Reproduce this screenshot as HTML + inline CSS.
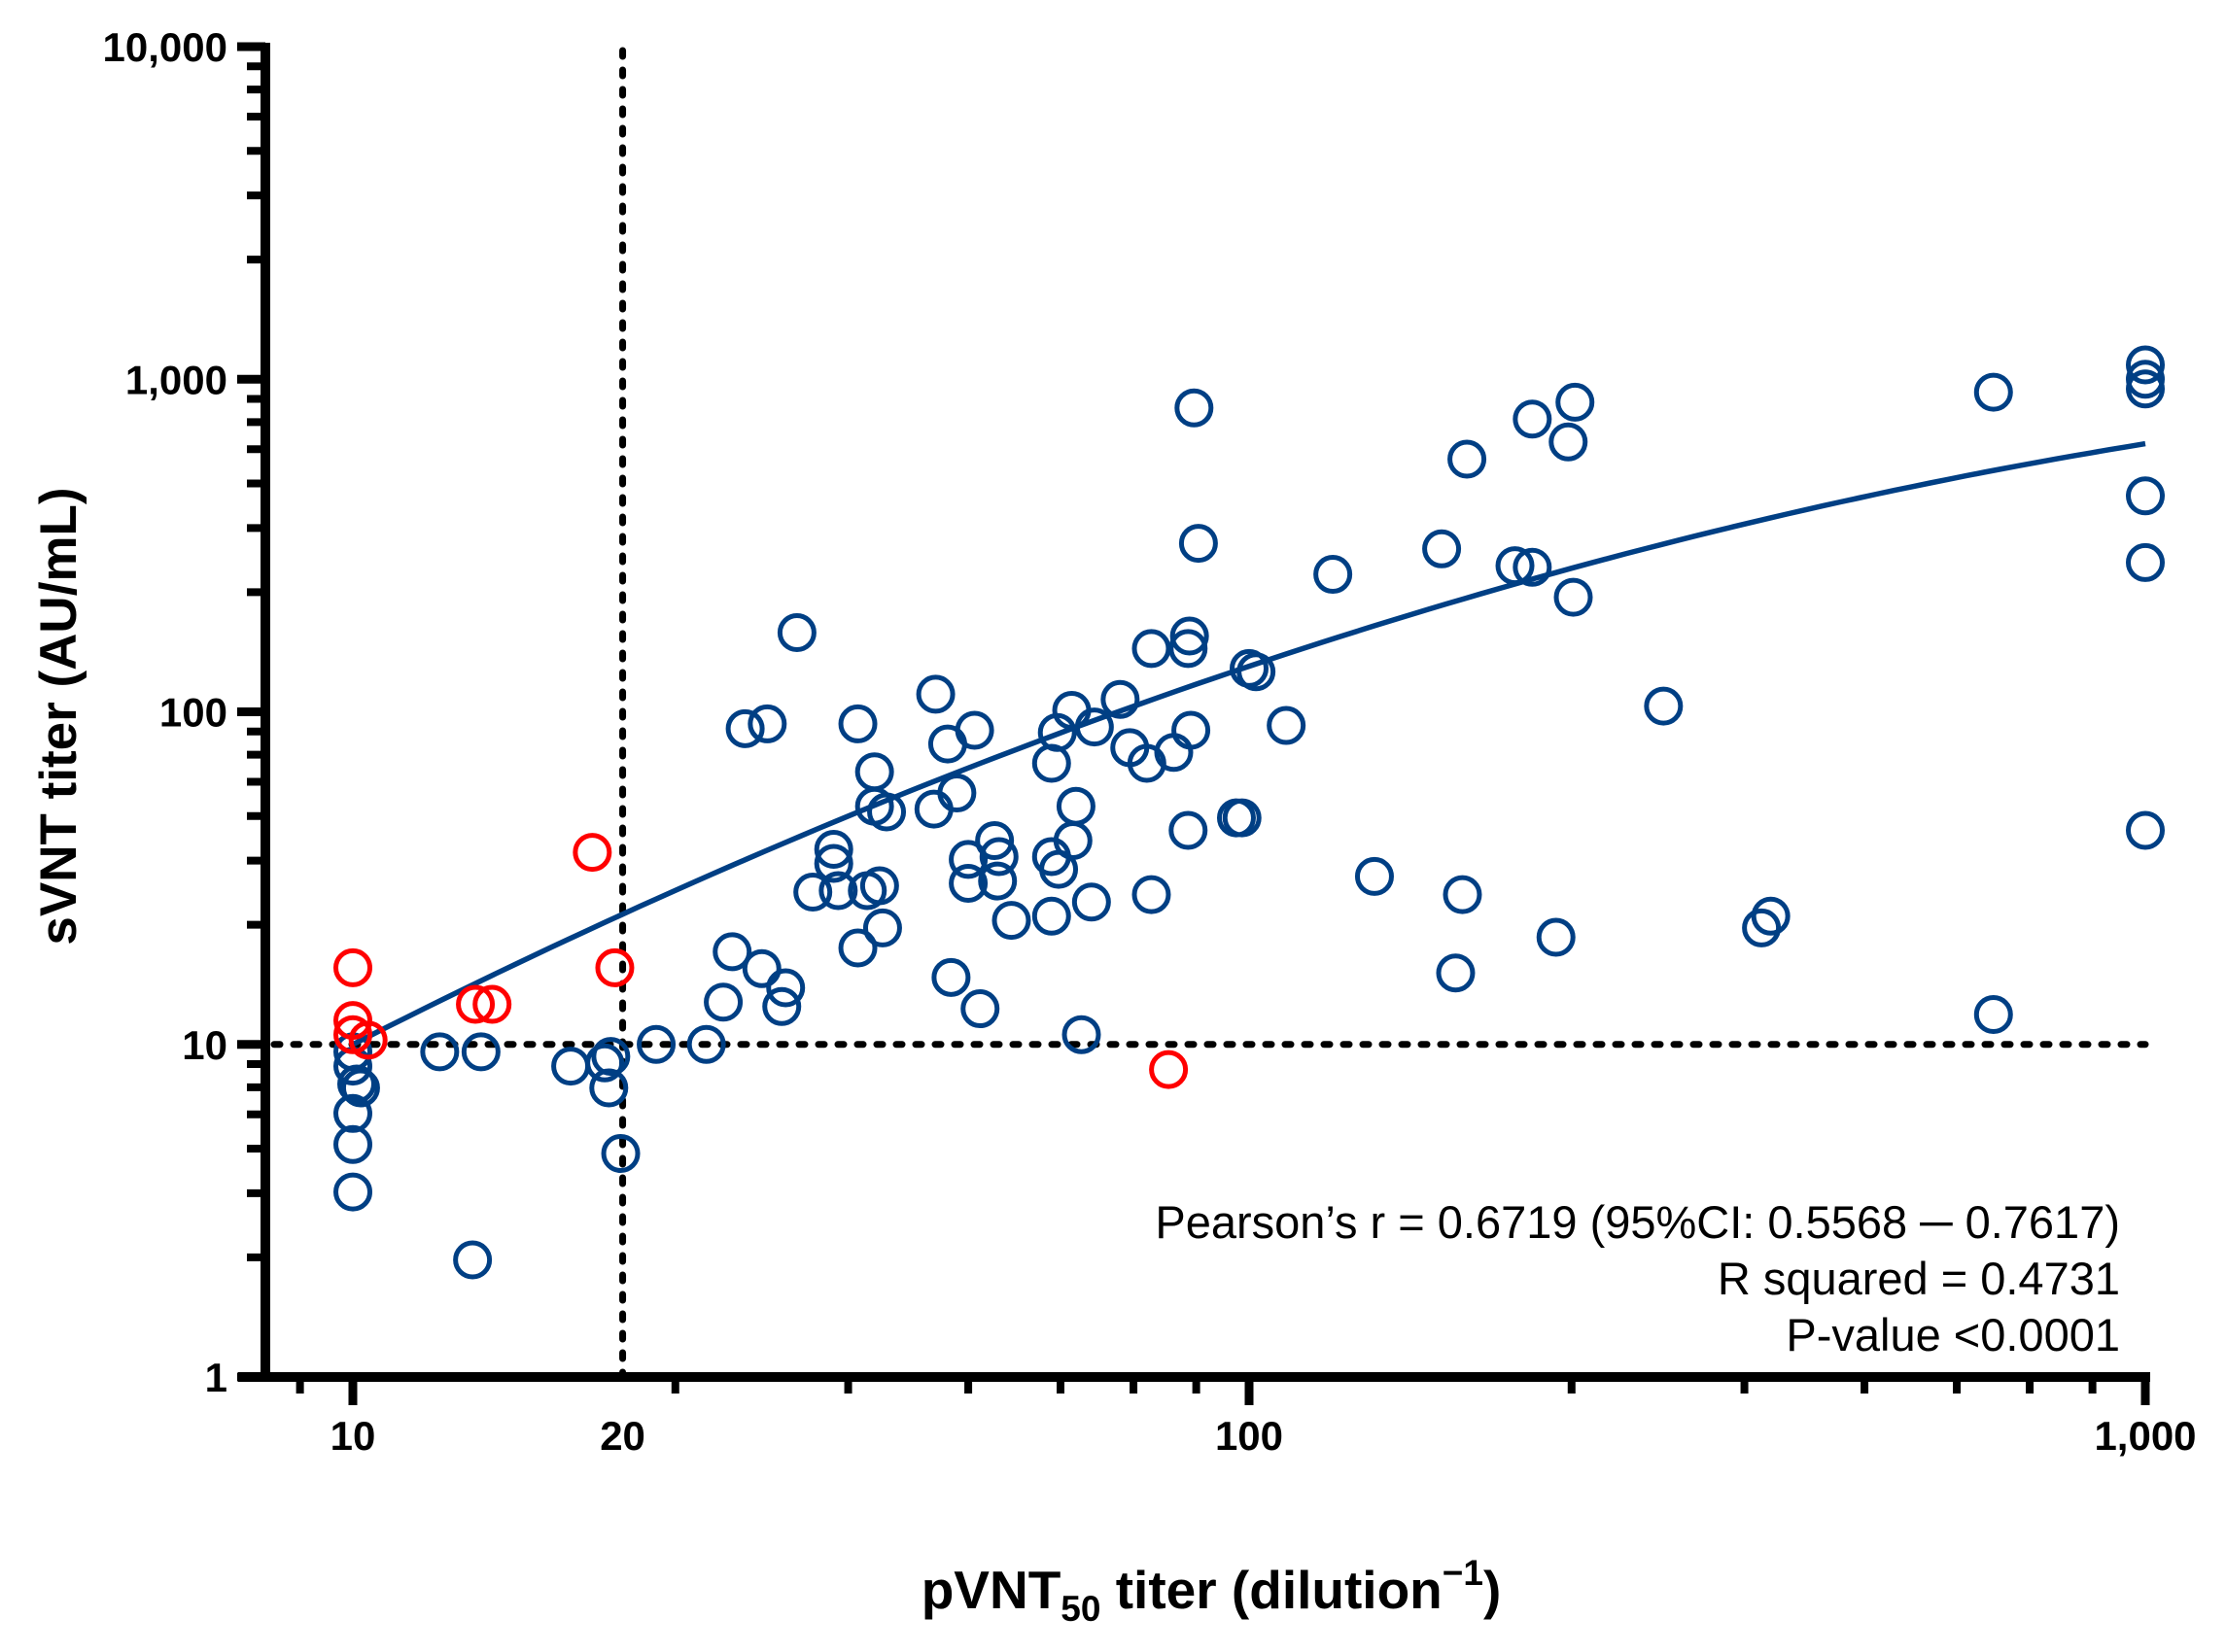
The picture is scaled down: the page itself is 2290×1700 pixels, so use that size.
<!DOCTYPE html>
<html><head><meta charset="utf-8"><style>
html,body{margin:0;padding:0;background:#fff;}
svg{display:block;font-family:"Liberation Sans",Arial,sans-serif;}
</style></head><body>
<svg id="chart" width="2290" height="1700" viewBox="0 0 2290 1700" xmlns="http://www.w3.org/2000/svg">
<g id="axes"></g>
<g id="refs"></g>
<g id="fit"></g>
<g id="pts"></g>
<text transform="translate(78,737) rotate(-90)" text-anchor="middle" font-weight="bold" font-size="53">sVNT titer (AU/mL)</text>
<text x="1246" y="1655" text-anchor="middle" font-weight="bold" font-size="55">pVNT<tspan font-size="37" dy="13">50</tspan><tspan dy="-13"> titer (dilution</tspan><tspan font-size="37" dy="-24">−1</tspan><tspan dy="24">)</tspan></text>
<g font-size="47" text-anchor="end">
<text x="2181" y="1274">Pearson’s r = 0.6719 (95%CI: 0.5568 ─ 0.7617)</text>
<text x="2181" y="1332">R squared = 0.4731</text>
<text x="2181" y="1390">P-value &lt;0.0001</text>
</g>
</svg>
<script>
const xTickVals=[10,20,100,1000];
const xTickLabels=["10","20","100","1,000"];
const yTickVals=[1,10,100,1000,10000];
const yTickLabels=["1","10","100","1,000","10,000"];
const minorMult=[2.29,3.57,4.86,6.16,7.43,8.73];
const blueX=[10,10,10.1,10,10,10,10.2,12.5,13.9,13.6,17.5,19.1,19.4,19.3,19.9,21.8,24.8,25.9,26.5,27.4,29.0,28.6,30.1,30.4,31.3,32.6,34.4,34.4,34.8,36.6,36.6,37.5,38.2,38.2,38.7,39.0,39.4,44.7,44.5,46.1,47.2,46.5,49.4,48.6,48.6,50.1,52,52.6,52.4,54.3,60.2,60.2,61.3,61.1,63.4,63.6,64.1,60.2,65,66.7,67.2,71.8,73.6,76.9,77.8,77.8,82.4,85.8,85.5,86.1,85.5,86.8,87.8,96.8,98.2,100,101.8,110,124,138,164,170,173,175,198,207,207,220,227,231,230,290,373,382,677,677,1000,1000,1000,1000,1000,1000];
const blueY=[9.5,8.6,7.6,6.2,5.0,3.6,7.4,9.5,9.5,2.25,8.6,8.8,9.2,7.4,4.7,10,10,13.4,19,89,92,16.9,13,14.8,173,28.7,38.6,35,29,92,19.5,29,66,52,30,22.4,50,113,51,80,57,15.9,88,36,30.5,12.8,41,36.7,31,23.6,70,36.7,33.6,86.7,101,41,52,24.3,10.7,26.8,90,109,78,70,155,28.2,75.5,169,155,88,44,820,321,48,48,135,132,91,259,32,309,16.4,28.2,575,275,272,759,21,648,853,221,104,22.4,24.3,914,12.3,1104,1000,935,446,281,44];
const redX=[10,10,10,10.4,13.7,14.3,18.5,19.6,81.3];
const redY=[17,11.8,10.7,10.3,13.2,13.2,37.8,17,8.4];
const fitA=1.371, fitB=-0.234; // log-log quadratic fit
const NS="http://www.w3.org/2000/svg";
const X0=363, XD=922, Y0=1417, YD=342.25;
function sx(v){return X0+(Math.log10(v)-1)*XD;}
function sy(v){return Y0-Math.log10(v)*YD;}
function mk(tag,attrs,parent){const e=document.createElementNS(NS,tag);for(const k in attrs)e.setAttribute(k,attrs[k]);parent.appendChild(e);return e;}
const axes=document.getElementById('axes');
let e;
e=mk('line',{x1:273,y1:44,x2:273,y2:1422,stroke:'#000','stroke-width':10},axes);


e=mk('line',{x1:245,y1:1417,x2:2212,y2:1417,stroke:'#000','stroke-width':10},axes);


for(let d=0;d<4;d++){minorMult.forEach(m=>{const v=Math.pow(10,d)*m;
e=mk('line',{x1:254,y1:sy(v),x2:273,y2:sy(v),stroke:'#000','stroke-width':8},axes);

});}
yTickVals.forEach((v,i)=>{
e=mk('line',{x1:244,y1:sy(v),x2:273,y2:sy(v),stroke:'#000','stroke-width':9},axes);


const t=mk('text',{x:234,y:sy(v)+15,'text-anchor':'end','font-weight':'bold','font-size':42},axes);t.textContent=yTickLabels[i];

});
const xMinor=[minorMult[5]];
for(let d=1;d<3;d++)minorMult.forEach(m=>xMinor.push(Math.pow(10,d)*m));
xMinor.forEach(v=>{
e=mk('line',{x1:sx(v),y1:1417,x2:sx(v),y2:1434,stroke:'#000','stroke-width':8},axes);

});
xTickVals.forEach((v,i)=>{
if(v!==20){
e=mk('line',{x1:sx(v),y1:1417,x2:sx(v),y2:1446,stroke:'#000','stroke-width':9},axes);

}
const t=mk('text',{x:sx(v),y:1492,'text-anchor':'middle','font-weight':'bold','font-size':42},axes);t.textContent=xTickLabels[i];

});
const refs=document.getElementById('refs');
e=mk('line',{x1:282,y1:sy(10),x2:sx(1000),y2:sy(10),stroke:'#000','stroke-width':7,'stroke-dasharray':'6 14','stroke-linecap':'round'},refs);


e=mk('line',{x1:sx(20),y1:sy(10000)+4,x2:sx(20),y2:1418,stroke:'#000','stroke-width':7,'stroke-dasharray':'6 14','stroke-linecap':'round'},refs);


let d='';for(let i=0;i<=100;i++){const u=2*i/100;const v=fitA*u+fitB*u*u;const px=X0+u*XD, py=Y0-(v+1)*YD;d+=(i?'L':'M')+px.toFixed(1)+','+py.toFixed(1);}
e=mk('path',{d:d,fill:'none',stroke:'#003f84','stroke-width':5.5},document.getElementById('fit'));


const pts=document.getElementById('pts');
blueX.forEach((x,i)=>{e=mk('circle',{cx:sx(x),cy:sy(blueY[i]),r:17.5,fill:'none',stroke:'#003f84','stroke-width':5},pts);

});
redX.forEach((x,i)=>{e=mk('circle',{cx:sx(x),cy:sy(redY[i]),r:17.5,fill:'none',stroke:'#ff0000','stroke-width':5},pts);

});
</script>
</body></html>
